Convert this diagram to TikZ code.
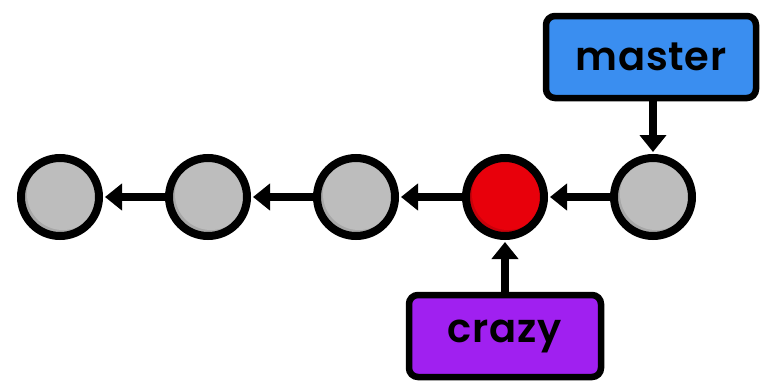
\documentclass[tikz,border=0pt]{standalone}
\usepackage{fontspec}
\setmainfont{Poppins}[BoldFont={* SemiBold},LetterSpace=2]
\usetikzlibrary{arrows.meta}
\definecolor{cgray}{HTML}{BDBDBD}
\definecolor{cgrayd}{HTML}{A8A8A8}
\definecolor{cred}{HTML}{E8000B}
\definecolor{credd}{HTML}{C8000A}
\definecolor{cblue}{HTML}{3A8EF0}
\definecolor{cpurple}{HTML}{A020F0}
\tikzset{
  commit/.style={circle, draw=black, line width=8pt, minimum size=78pt, inner sep=0pt},
  branch/.style={draw=black, line width=6.5pt, rounded corners=9pt, minimum width=210pt, minimum height=82pt, font=\bfseries\fontsize{40}{42}\selectfont},
  link/.style={line width=7.5pt, -{Triangle[width=26pt,length=17pt]}, shorten >=2pt},
}
\begin{document}
\begin{tikzpicture}[x=1pt,y=-1pt]
\useasboundingbox (0,0) rectangle (764,383);
\foreach \n/\x/\f/\d in {c1/60/cgray/cgrayd, c2/208/cgray/cgrayd, c3/356/cgray/cgrayd, c4/505/cred/credd, c5/653/cgray/cgrayd}{
  \fill[\d] (\x,197) circle (37);
  \begin{scope}
    \clip (\x,197) circle (37);
    \fill[\f] (\x+3,194) circle (36);
  \end{scope}
  \node[commit] (\n) at (\x,197) {};
}
\node[branch, fill=cblue] (master) at (651,57) {master};
\node[branch, fill=cpurple, minimum width=192pt] (crazy) at (505,336) {crazy};
\draw[link] (c2) -- (c1);
\draw[link] (c3) -- (c2);
\draw[link] (c4) -- (c3);
\draw[link] (c5) -- (c4);
\draw[link] (master.south -| c5) -- (c5);
\draw[link] (crazy.north -| c4) -- (c4);
\end{tikzpicture}
\end{document}
